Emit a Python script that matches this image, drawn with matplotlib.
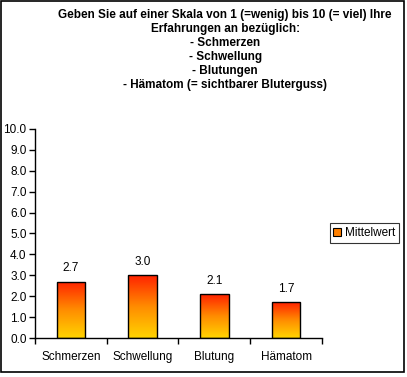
import matplotlib
matplotlib.use("Agg")
import matplotlib.pyplot as plt
import matplotlib.patches as patches
from matplotlib.colors import LinearSegmentedColormap
import numpy as np

plt.rcParams['font.family'] = ['Liberation Sans', 'DejaVu Sans']

# Data
categories = ["Schmerzen", "Schwellung", "Blutung", "Hämatom"]
values = [2.7, 3.0, 2.1, 1.7]
series_name = "Mittelwert"
title_lines = [
    "Geben Sie auf einer Skala von 1 (=wenig) bis 10 (= viel) Ihre",
    "Erfahrungen an bezüglich:",
    "- Schmerzen",
    "- Schwellung",
    "- Blutungen",
    "- Hämatom (= sichtbarer Bluterguss)",
]

fig = plt.figure(figsize=(4.07, 3.77), dpi=100)
ax = fig.add_axes([0.086, 0.1034, 0.705, 0.5546])

grad = LinearSegmentedColormap.from_list("rg", ["#FFD400", "#FF8C00", "#FF2200"])

x = np.arange(len(categories))
bars = ax.bar(x, values, width=0.4, facecolor="none", edgecolor="black",
              linewidth=1.0, zorder=3)
ramp = np.linspace(0, 1, 256).reshape(-1, 1)
for b in bars:
    x0, y0 = b.get_x(), b.get_y()
    w, h = b.get_width(), b.get_height()
    im = ax.imshow(ramp, cmap=grad, origin="lower", aspect="auto",
                   extent=[x0, x0 + w, y0, y0 + h], zorder=2)
    im.set_clip_path(b)
    ax.text(x0 + w / 2, h + 0.35, f"{h:.1f}", ha="center", va="bottom",
            fontsize=8.5)

ax.set_xlim(-0.5, len(categories) - 0.5)
ax.set_ylim(0, 10)
ax.set_yticks(np.arange(0, 10.01, 1.0))
ax.set_yticklabels([f"{v:.1f}" for v in np.arange(0, 10.01, 1.0)], fontsize=8.5)
ax.set_xticks(x)
ax.set_xticklabels(categories, fontsize=8.5)
ax.tick_params(axis="x", length=0, pad=9)
ax.set_xticks(np.arange(-0.5, len(categories)), minor=True)
ax.tick_params(axis="x", which="minor", length=4, width=1, direction="out")
ax.tick_params(axis="y", length=4, width=1, direction="out", pad=2)
for s in ["top", "right"]:
    ax.spines[s].set_visible(False)
for s in ["left", "bottom"]:
    ax.spines[s].set_linewidth(1.0)

# Legend
handle = patches.Patch(facecolor="#FF8000", edgecolor="black", linewidth=0.8)
leg = fig.legend([handle], [series_name], loc="center left",
                 bbox_to_anchor=(0.81, 0.382), fontsize=8.5, frameon=True,
                 fancybox=False, edgecolor="black", handlelength=0.7,
                 handleheight=0.7, handletextpad=0.3, borderpad=0.3,
                 borderaxespad=0)
leg.get_frame().set_linewidth(0.8)

# Title
for i, line in enumerate(title_lines):
    fig.text(0.553, 1 - (15 + 14 * i) / 377, line, ha="center", va="center",
             fontsize=8.5, fontweight="bold")

# Outer frame
fig.patches.append(patches.Rectangle((0.002, 0.014), 0.99, 0.984,
                                     transform=fig.transFigure, fill=False,
                                     edgecolor="black", linewidth=1.2))

fig.savefig("out.png", dpi=100)
